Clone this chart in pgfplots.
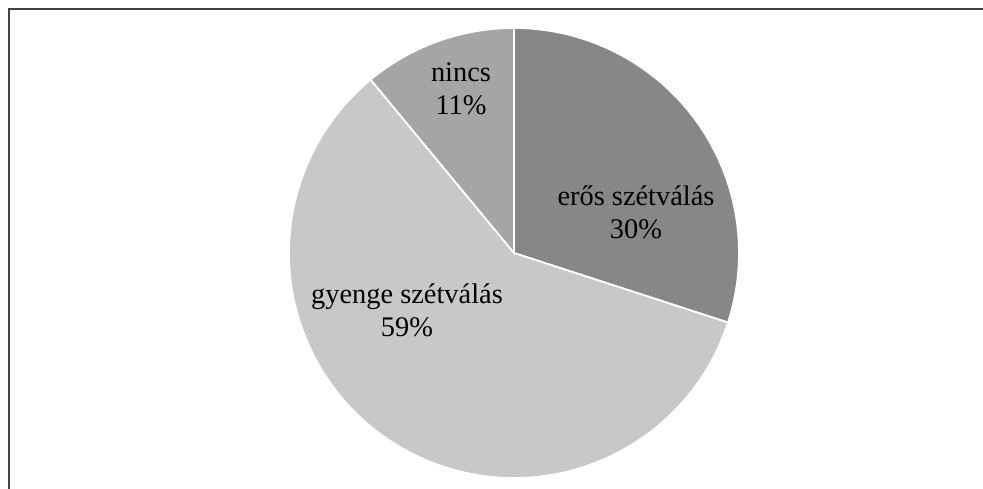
\documentclass[border=0pt]{standalone}
\usepackage{fontspec}
\setmainfont{Liberation Serif}
\usepackage{pgfplots}
\usepackage{pgfplotstable}
\pgfplotsset{compat=1.18}

\definecolor{erosgray}{HTML}{878787}
\definecolor{gyengegray}{HTML}{C8C8C8}
\definecolor{nincsgray}{HTML}{A5A5A5}
\definecolor{framegray}{HTML}{444444}

% share (%), label, label position (px from bottom-left), fill colour
\pgfplotstableread[col sep=comma]{
value,label,lx,ly,color
30,erős szétválás,636,277,erosgray
59,gyenge szétválás,407,179,gyengegray
11,nincs,461,400,nincsgray
}\piedata

\begin{document}
\begin{tikzpicture}
\begin{axis}[
    hide axis,
    scale only axis,
    width=491.5bp, height=244.5bp,
    xmin=0, xmax=983, ymin=0, ymax=489,
    clip=false,
]
\pgfplotsextra{
  \gdef\pieangle{90}
  \foreach \i in {0,1,2}{
    \pgfplotstablegetelem{\i}{value}\of\piedata \let\v\pgfplotsretval
    \pgfplotstablegetelem{\i}{color}\of\piedata \let\c\pgfplotsretval
    \pgfmathsetmacro{\endangle}{\pieangle-3.6*\v}
    \fill[fill=\c, draw=white, line width=0.9bp]
      (axis cs:514,236) -- ++(\pieangle:112.5bp)
      arc[start angle=\pieangle, end angle=\endangle, radius=112.5bp] -- cycle;
    \xdef\pieangle{\endangle}
  }
  \foreach \i in {0,1,2}{
    \pgfplotstablegetelem{\i}{value}\of\piedata \let\v\pgfplotsretval
    \pgfplotstablegetelem{\i}{label}\of\piedata \let\lbl\pgfplotsretval
    \pgfplotstablegetelem{\i}{lx}\of\piedata \let\lx\pgfplotsretval
    \pgfplotstablegetelem{\i}{ly}\of\piedata \let\ly\pgfplotsretval
    \node[align=center, inner sep=0pt, text=black,
          font=\fontsize{14.2bp}{16.5bp}\selectfont]
      at (axis cs:\lx,\ly) {\lbl\\\v\%};
  }
  % cropped chart frame: only top and left edges visible
  \draw[framegray, line width=1bp] (axis cs:8.5,0) -- (axis cs:8.5,479.5) -- (axis cs:983,479.5);
}
\end{axis}
\pgfresetboundingbox
\path (current axis.south west) rectangle (current axis.north east);
\end{tikzpicture}
\end{document}
